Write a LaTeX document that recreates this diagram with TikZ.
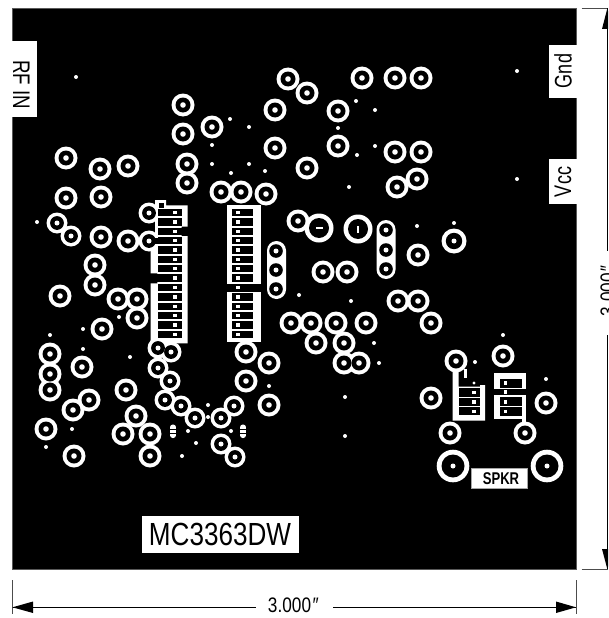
\documentclass[tikz,border=0pt]{standalone}
\usepackage{fontspec}
\setmainfont{Liberation Sans}
\newcommand{\fsz}[1]{\fontsize{#1}{#1}\selectfont}
\tikzset{
  x=1pt,y=-1pt,
  lbl/.style={inner sep=0pt,text=black},
  wh/.style={fill=white,draw=none},
  bk/.style={fill=black,draw=none},
  dimline/.style={draw=black,line width=0.9pt},
  tick/.style={draw=black!70,line width=0.9pt},
}
\def\padsA{288/79,307/93,183/105,275/110,183/134,212/127,275/148,187/164,187/183,66/158,100/169,128/166,66/198,101/197,221/192,241/192,266/194,307/168,101/237,128/241,95/265,95/285,60/296,118/299,137/299,298/221,137/318,102/329,50/354,50/374,50/390,82/367,126/390,89/400,73/410,46/429,74/456,136/416,123/434,150/434,150/456,246/352,269/363,246/381,269/405,291/323,362/78,395/78,421/78,338/111,338/146,395/152,421/152,397/187,417/179,323/272,347/272,418/255,398/301,418/301,311/323,336/323,366/323,431/323,316/343,344/343,344/363,359/363,456/361,503/356,431/398,546/403,450/433,525/433}
\def\padsB{149/213,149/241,57/223,71/236,158/348,171/352,158/368,170/381,165/400,181/406,195/418,221/418,234/406,221/444,235/457}
\def\dots{76/77,230/119,249/127,212/145,212/164,249/164,231/173,265/171,37/222,299/295,517/71,356/101,375/110,338/128,375/146,357/155,349/187,517/179,417/226,454/223,351/301,119/317,83/329,50/335,83/349,130/357,72/429,46/447,188/431,196/443,182/456,208/405,208/417,231/431,269/386,374/343,379/363,503/335,475/362,546/379,345/397,345/436}
\def\rowsY{212.7,222,231.3,240.7,250,259.3,268.7,278,287.3,297,306.3,315.7,325,334.3}
\begin{document}
\begin{tikzpicture}
\clip (0,0) rectangle (608,618);
\fill[white] (0,0) rectangle (608,618);
% board
\fill[black,draw=black!65,line width=0.6pt] (12.3,8.5) rectangle (576,569);
% IC frames
\fill[wh] (155,200)--(166,200)--(166,205.3)--(187.7,205.3)--(187.7,226.7)--(181.7,226.7)--(181.7,236)--(187.7,236)--(187.7,343.3)--(150.7,343.3)--(150.7,283.3)--(157.3,283.3)--(157.3,273.3)--(150.7,273.3)--(150.7,236)--(155,236)--cycle;
\fill[wh] (226.7,205.3) rectangle (260.7,284.3);
\fill[wh] (226.7,291.7) rectangle (260.7,341.7);
% speaker frames
\fill[wh] (452.7,368)--(458.7,368)--(458.7,386.5)--(480,386.5)--(480,385)--(485,385)--(485,420.7)--(452.7,420.7)--cycle;
\fill[wh] (464.2,369) rectangle (466.6,378);
\fill[wh] (494,373.3) rectangle (526.3,389);
\fill[wh] (494,395) rectangle (526.3,419.3);
\fill[wh] (521.5,419) rectangle (526.3,428);
% pills
\fill[wh] (267,250.5) arc[start angle=180,end angle=360,radius=9.5] -- (286,289.5) arc[start angle=0,end angle=180,radius=9.5] -- cycle;
\fill[wh] (376.5,229.5) arc[start angle=180,end angle=360,radius=9.5] -- (395.5,269.5) arc[start angle=0,end angle=180,radius=9.5] -- cycle;
% pad rings
\foreach \x/\y in \padsA {\fill[wh] (\x,\y) circle[radius=11.5];}
\foreach \x/\y in \padsB {\fill[wh] (\x,\y) circle[radius=10.5];}
\fill[wh] (319,228) circle[radius=14.5];
\fill[wh] (358,229) circle[radius=14.5];
\fill[wh] (454,241) circle[radius=12.5];
\fill[wh] (453,466) circle[radius=16.3];
\fill[wh] (547,466) circle[radius=16.3];
% IC cells
\foreach \y in \rowsY {\fill[bk] (158,\y-3.7) rectangle (181.7,\y+3.7);}
\foreach \y in {212.7,222,231.3,240.7,250,259.3,268.7,278,297,306.3,315.7,325,334.3}{\fill[bk] (232.3,\y-3.7) rectangle (253.3,\y+3.7);}
\fill[bk] (181,227.7) rectangle (188.5,235);
\fill[bk] (150,274.3) rectangle (158,281.7);
\fill[bk] (154,238) rectangle (158.5,243.5);
\fill[bk] (159.3,202.5) rectangle (164,208);
% speaker cells
\foreach \y/\h in {392.5/4.1,402/4.1,411.3/4.1}{\fill[bk] (458.7,\y-\h) rectangle (480,\y+\h);}
\fill[bk] (500,379.3) rectangle (521.5,388);
\fill[bk] (500,397.3) rectangle (521.5,405.7);
\fill[bk] (500,407) rectangle (521.5,416);
% pad centres
\foreach \x/\y in \padsA {\fill[bk] (\x,\y) circle[radius=7.5];}
\foreach \x/\y in \padsB {\fill[bk] (\x,\y) circle[radius=6.9];}
\fill[bk] (319,228) circle[radius=10];
\fill[bk] (358,229) circle[radius=10];
\fill[bk] (454,241) circle[radius=8.2];
\fill[bk] (453,466) circle[radius=11.5];
\fill[bk] (547,466) circle[radius=11.5];
\foreach \x/\y in {276/251,276/270,276/289,386/230,386/250,386/269}{\fill[bk] (\x,\y) circle[radius=6.8];}
% holes
\foreach \x/\y in \padsA {\fill[wh] (\x,\y) circle[radius=2.8];}
\foreach \x/\y in \padsB {\fill[wh] (\x,\y) circle[radius=2.5];}
\foreach \x/\y in {276/251,276/270,276/289,386/230,386/250,386/269,454/241,453/466,547/466}{\fill[wh] (\x,\y) circle[radius=2.5];}
\fill[wh] (315.5,227) rectangle (322.5,229);
\fill[wh] (357,225.5) rectangle (359,232.5);
\foreach \x/\y in \dots {\fill[wh] (\x,\y) circle[radius=2];}
% IC holes
\foreach \y in \rowsY {\fill[wh] (173.2,\y-1.7) rectangle (176.8,\y+1.7);
  \fill[wh] (236,\y-1.7) rectangle (239.6,\y+1.7);}
\foreach \y in {392.5,402,411.3}{\fill[wh] (472.3,\y-1.6) rectangle (475.7,\y+1.6);}
\fill[wh] (474,383) circle[radius=1.7];
\foreach \y in {383,392,402,411.5}{\fill[wh] (503.5,\y-1.6) rectangle (507,\y+1.6);}
% small triple-hole pills
\foreach \x in {173,243}{
  \fill[wh,rounded corners=2.6pt] (\x-2.9,424.5) rectangle (\x+2.9,438);
  \fill[bk] (\x-3,428.6) rectangle (\x+3,429.8);
  \fill[bk] (\x-3,432.8) rectangle (\x+3,434);
}
% labels
\fill[wh] (12.3,41) rectangle (37,117);
\node[lbl,rotate=-90] (rfin) at (21.5,84.5) {\fsz{24}\scalebox{.78}[1]{RF IN}};
\fill[wh] (549,45) rectangle (576.5,98);
\node[lbl,rotate=90] (gnd) at (563,71) {\fsz{24}\scalebox{.75}[1]{Gnd}};
\fill[wh] (549,159) rectangle (576.5,204);
\node[lbl,rotate=90] (vcc) at (563,182) {\fsz{24}\scalebox{.75}[1]{Vcc}};
\fill[wh] (142,516) rectangle (299.3,553);
\node[lbl] (mc) at (220,534.5) {\fsz{32}\scalebox{.815}[1]{MC3363DW}};
\fill[white,draw=black!35,line width=.5pt] (471,468) rectangle (527,488);
\node[lbl] (spkr) at (501,479) {\fsz{17}\bfseries\scalebox{.77}[1]{SPKR}};
% dimensions
\draw[tick] (12.5,580) -- (12.5,614);
\draw[tick] (576,580) -- (576,614);
\draw[tick] (581.5,8.5) -- (608,8.5);
\draw[tick] (581.5,569) -- (608,569);
\draw[dimline] (12.5,607.3) -- (256,607.3);
\draw[dimline] (333,607.3) -- (576,607.3);
\fill[bk] (12.5,607.3) -- (33,601.5) -- (33,613) -- cycle;
\fill[bk] (576,607.3) -- (556,601.5) -- (556,613) -- cycle;
\node[lbl] (dimh) at (293,605.7) {\fsz{21}\scalebox{.82}[1]{3.000\kern1pt{\itshape″}}};
\draw[dimline] (607.3,8.5) -- (607.3,251);
\draw[dimline] (607.3,335) -- (607.3,569);
\fill[bk] (607.3,8.5) -- (602,29) -- (613,29) -- cycle;
\fill[bk] (607.3,569) -- (602,549) -- (613,549) -- cycle;
\node[lbl,rotate=90] (dimv) at (607.8,291) {\fsz{21}\scalebox{.82}[1]{3.000\kern1pt{\itshape″}}};
\end{tikzpicture}
\end{document}
